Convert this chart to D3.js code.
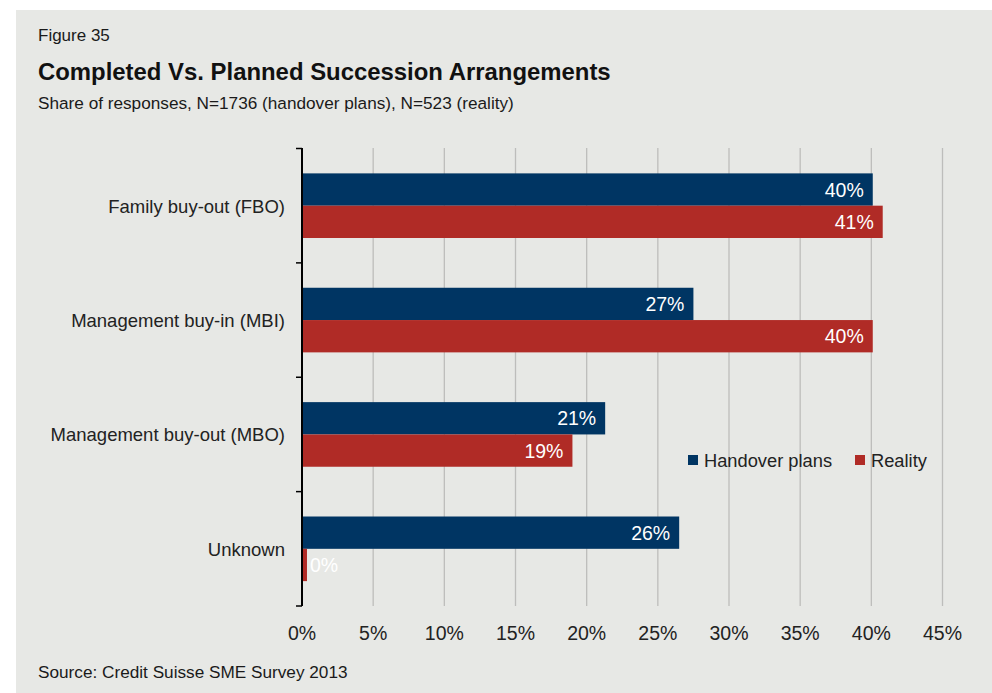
<!DOCTYPE html>
<html><head><meta charset="utf-8">
<script src="https://cdn.jsdelivr.net/npm/d3@7"></script>
<style>body{margin:0;background:#fff}svg{display:block}text{font-family:"Liberation Sans",Arial,sans-serif}</style>
</head><body><svg id="c" width="992" height="693"></svg>
<script>
const categories = ["Family buy-out (FBO)", "Management buy-in (MBI)", "Management buy-out (MBO)", "Unknown"];
const handoverPlans = [40.1, 27.5, 21.3, 26.5];
const reality = [40.8, 40.1, 19.0, 0.35];
const labelsPlans = ["40%", "27%", "21%", "26%"];
const labelsReality = ["41%", "40%", "19%", "0%"];
const seriesNames = ["Handover plans", "Reality"];
const colors = ["#003563", "#b02b26"];
const xTicks = [0, 5, 10, 15, 20, 25, 30, 35, 40, 45];

const svg = d3.select("#c");
svg.append("rect").attr("x", 16).attr("y", 10).attr("width", 976).attr("height", 683).attr("fill", "#e7e8e5");

svg.append("text").attr("x", 38).attr("y", 41).attr("font-size", 17).attr("fill", "#1a1a1a").text("Figure 35");
svg.append("text").attr("x", 38).attr("y", 80).attr("font-size", 23.9).attr("font-weight", "bold").attr("fill", "#111").text("Completed Vs. Planned Succession Arrangements");
svg.append("text").attr("x", 38).attr("y", 109).attr("font-size", 17.2).attr("fill", "#1a1a1a").text("Share of responses, N=1736 (handover plans), N=523 (reality)");
svg.append("text").attr("x", 38).attr("y", 678).attr("font-size", 17.2).attr("fill", "#1a1a1a").text("Source: Credit Suisse SME Survey 2013");

const x = d3.scaleLinear().domain([0, 45]).range([302, 942.5]);
const y = d3.scaleBand().domain(categories).range([148.5, 606]).paddingInner(0).paddingOuter(0);
const inner = d3.scaleBand().domain(seriesNames).range([0, y.bandwidth()]).paddingInner(0).paddingOuter(0.77);

// gridlines
svg.append("g").selectAll("line").data(xTicks.slice(1)).join("line")
  .attr("x1", d => x(d)).attr("x2", d => x(d)).attr("y1", 148).attr("y2", 606)
  .attr("stroke", "#bdbdbb").attr("stroke-width", 1.3);

// bars
const data = [];
categories.forEach((c, i) => {
  data.push({c, s: seriesNames[0], v: handoverPlans[i], l: labelsPlans[i], col: colors[0]});
  data.push({c, s: seriesNames[1], v: reality[i], l: labelsReality[i], col: colors[1]});
});
svg.append("g").selectAll("rect").data(data).join("rect")
  .attr("x", x(0)).attr("y", d => y(d.c) + inner(d.s))
  .attr("width", d => x(d.v) - x(0)).attr("height", inner.bandwidth())
  .attr("fill", d => d.col);

svg.append("g").selectAll("text").data(data).join("text")
  .attr("x", d => d.v < 3 ? x(d.v) + 3 : x(d.v) - 9)
  .attr("text-anchor", d => d.v < 3 ? "start" : "end")
  .attr("y", d => y(d.c) + inner(d.s) + inner.bandwidth() / 2 + 7)
  .attr("font-size", 19.5).attr("fill", "#fff")
  .text(d => d.l);

// y axis
const yAxisG = svg.append("g");
yAxisG.append("line").attr("x1", 302).attr("x2", 302).attr("y1", 148).attr("y2", 606).attr("stroke", "#000").attr("stroke-width", 2);
const bounds = categories.map(c => y(c)).concat([y.range()[1]]);
yAxisG.selectAll("line.t").data(bounds).join("line").attr("class", "t")
  .attr("x1", 296).attr("x2", 302).attr("y1", d => d).attr("y2", d => d)
  .attr("stroke", "#000").attr("stroke-width", 1.5);
yAxisG.selectAll("text").data(categories).join("text")
  .attr("x", 285).attr("y", d => y(d) + y.bandwidth() / 2 + 7)
  .attr("text-anchor", "end").attr("font-size", 18.5).attr("fill", "#222").text(d => d);

// x tick labels
svg.append("g").selectAll("text").data(xTicks).join("text")
  .attr("x", d => x(d)).attr("y", 640).attr("text-anchor", "middle")
  .attr("font-size", 19.5).attr("fill", "#222").text(d => d + "%");

// legend
const leg = svg.append("g");
const legX = [688, 855];
seriesNames.forEach((s, i) => {
  leg.append("rect").attr("x", legX[i]).attr("y", 455).attr("width", 10).attr("height", 10).attr("fill", colors[i]);
  leg.append("text").attr("x", legX[i] + 16).attr("y", 467).attr("font-size", 18.3).attr("fill", "#222").text(s);
});
</script></body></html>
